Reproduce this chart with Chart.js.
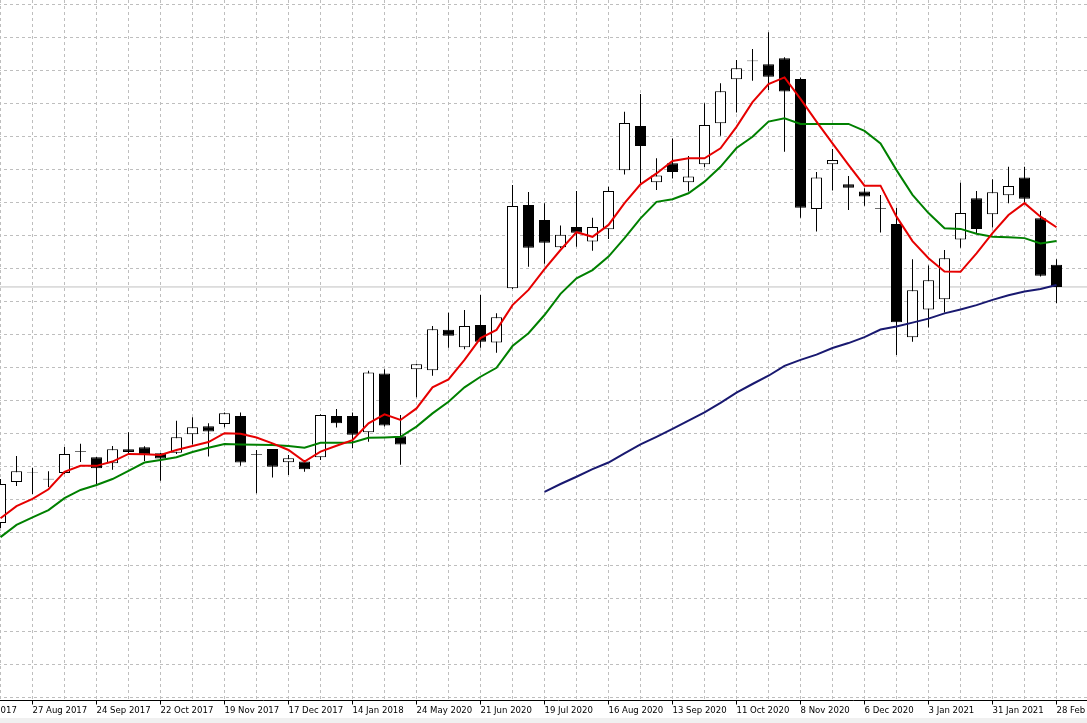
<!DOCTYPE html>
<html>
<head>
<meta charset="utf-8">
<script src="https://cdn.jsdelivr.net/npm/chart.js@4.4.0/dist/chart.umd.min.js"></script>
<style>
    html, body { margin: 0; padding: 0; width: 1087px; height: 723px; overflow: hidden; background: #fff; }
    #wrap { position: absolute; left: -32px; top: 0; width: 1180px; height: 723px; }
    #strip { position: absolute; left: 0; top: 718px; width: 1087px; height: 5px; background: #f0f0f0; }
</style>
</head>
<body>
<div id="wrap"><canvas id="chart" width="1180" height="723"></canvas></div>
<div id="strip"></div>
<script>
// 周线刻度标签（每 4 根 K 线一个）
const tickLabels = ['30 Jul 2017', '27 Aug 2017', '24 Sep 2017', '22 Oct 2017', '19 Nov 2017', '17 Dec 2017',
    '14 Jan 2018', '24 May 2020', '21 Jun 2020', '19 Jul 2020', '16 Aug 2020', '13 Sep 2020',
    '11 Oct 2020', '8 Nov 2020', '6 Dec 2020', '3 Jan 2021', '31 Jan 2021', '28 Feb 2021'];

// K 线数据：开 / 高 / 低 / 收
const opens = [153.0, 165.4, 168.1, 166.2, 168.1, 174.5, 172.9, 171.1, 175.3, 175.9, 174.1, 174.3, 179.9, 182.3, 183.0, 185.4,
    173.8, 175.4, 171.4, 171.6, 172.9, 185.4, 185.4, 180.5, 198.3, 179.3, 199.6, 199.3, 211.5, 206.2, 213.0, 207.7,
    224.1, 249.3, 244.8, 236.5, 242.7, 238.3, 242.0, 259.9, 273.3, 256.2, 262.0, 256.2, 261.7, 274.1, 287.4, 292.9,
    292.0, 293.8, 287.5, 248.1, 261.7, 255.6, 253.4, 248.4, 243.6, 209.3, 217.7, 220.8, 238.9, 251.4, 246.5, 252.3,
    257.7, 245.3, 231.2];
const highs = [166.3, 173.3, 169.7, 168.7, 176.0, 177.0, 173.0, 176.3, 180.5, 176.2, 174.2, 184.0, 185.0, 183.2, 186.5, 186.5,
    175.1, 175.4, 173.6, 172.1, 185.9, 187.5, 186.5, 199.1, 199.6, 185.7, 201.2, 212.7, 216.7, 217.5, 222.1, 216.5,
    255.4, 253.3, 249.9, 243.1, 253.6, 245.5, 254.9, 277.6, 283.0, 263.5, 269.5, 264.2, 280.2, 286.2, 293.3, 296.6,
    301.7, 294.1, 288.0, 259.3, 266.3, 258.1, 254.4, 252.4, 248.5, 232.9, 231.0, 235.7, 256.1, 253.6, 257.1, 260.9,
    260.9, 247.5, 232.9];
const lows = [151.5, 164.2, 161.8, 163.9, 167.8, 171.5, 164.8, 169.1, 174.1, 171.8, 165.8, 173.9, 176.8, 173.1, 182.0, 170.3,
    162.0, 166.8, 167.5, 168.5, 172.1, 181.9, 175.6, 177.6, 182.2, 170.6, 191.1, 197.6, 206.1, 205.6, 206.1, 204.6,
    223.9, 230.6, 231.5, 236.3, 236.7, 235.5, 239.0, 258.6, 255.9, 253.9, 257.4, 253.4, 260.8, 270.3, 277.4, 287.0,
    284.2, 265.5, 245.5, 241.3, 253.7, 247.8, 249.1, 241.0, 203.9, 207.9, 212.2, 216.8, 236.4, 240.8, 242.5, 249.9,
    250.0, 227.7, 219.6];
const closes = [164.8, 168.7, 168.3, 166.4, 173.9, 174.7, 169.6, 175.3, 174.5, 173.8, 172.5, 179.0, 182.0, 180.7, 186.2, 171.3,
    173.6, 170.0, 172.6, 169.3, 185.7, 183.2, 179.7, 198.6, 182.5, 176.8, 201.1, 211.7, 209.7, 212.7, 207.9, 215.3,
    249.0, 236.4, 237.9, 240.3, 240.9, 242.7, 253.6, 274.2, 267.2, 258.3, 259.3, 258.0, 273.6, 283.8, 290.8, 293.1,
    288.2, 283.7, 248.5, 257.7, 263.0, 254.6, 251.9, 248.2, 213.8, 223.5, 226.5, 233.2, 246.9, 242.1, 253.2, 255.1,
    251.2, 227.9, 224.5];

// 三条均线（红 / 绿 / 深蓝）
const fastMA = [154.4, 158.1, 160.3, 163.2, 168.5, 170.3, 170.3, 171.6, 173.9, 173.8, 173.6, 175.1, 176.3, 177.5, 180.2, 180.0,
    178.9, 177.1, 175.1, 171.6, 174.6, 176.4, 178.1, 183.2, 185.9, 184.2, 187.7, 194.1, 196.5, 202.4, 209.0, 211.5,
    219.0, 223.6, 229.9, 235.7, 241.1, 239.7, 243.3, 249.9, 255.6, 258.9, 262.7, 263.5, 263.5, 266.5, 273.0, 280.5,
    286.0, 288.0, 281.5, 274.6, 268.0, 261.5, 255.2, 255.2, 245.8, 238.4, 233.2, 229.2, 229.1, 234.7, 240.8, 246.3,
    249.9, 245.8, 242.6];
const midMA = [148.7, 152.4, 154.7, 156.9, 160.5, 163.0, 164.5, 166.3, 168.8, 171.3, 172.1, 172.9, 174.5, 175.8, 176.9, 176.8,
    176.7, 176.6, 176.3, 175.8, 177.3, 177.3, 177.4, 178.8, 178.9, 179.1, 182.2, 186.2, 189.7, 194.1, 197.3, 200.0,
    206.6, 210.5, 216.0, 222.4, 227.1, 229.6, 233.7, 239.3, 245.3, 250.3, 251.1, 252.9, 256.4, 260.9, 266.6, 270.0,
    274.6, 275.6, 273.9, 273.9, 273.9, 273.9, 271.8, 268.0, 259.9, 252.4, 246.9, 242.3, 242.1, 240.6, 239.7, 239.6,
    239.3, 237.7, 238.4];
const slowMAStart = 34;
const slowMA = [162.4, 164.8, 167.0, 169.3, 171.3, 174.1, 176.8, 179.1, 181.5, 184.0, 186.5, 189.4, 192.5, 195.1, 197.6, 200.6,
    202.4, 204.0, 206.0, 207.5, 209.3, 211.6, 212.5, 213.7, 214.9, 216.5, 217.7, 219.0, 220.6, 222.0, 223.1, 223.9, 225.1];

// 坐标范围：每根 K 线 16px，画布向左偏移两根
const xMin = -2 - 1 / 32;
const xMax = xMin + 1180 / 16;
const gridColor = 'rgb(190,190,190)';
const fontFamily = "'DejaVu Sans Condensed', 'DejaVu Sans', sans-serif";

function labelFor(v) {
    if ((v + 2) % 4 !== 0) return '';
    return tickLabels[(v + 2) / 4] || '';
}

const lastClose = closes[closes.length - 1];

new Chart(document.getElementById('chart'), {
    type: 'bar',
    data: {
        datasets: [
            {
                type: 'line',
                data: [{ x: xMin, y: lastClose }, { x: xMax, y: lastClose }],
                borderColor: 'rgb(192,192,192)',
                borderWidth: 1,
                pointRadius: 0,
                order: 5
            },
            {
                data: lows.map((l, i) => ({ x: i, y: [l, highs[i]] })),
                backgroundColor: '#000',
                barThickness: 1,
                grouped: false,
                inflateAmount: 0,
                order: 4
            },
            {
                data: opens.map((o, i) => ({ x: i, y: [o, closes[i]] })),
                backgroundColor: opens.map((o, i) => closes[i] >= o ? '#fff' : '#000'),
                borderColor: '#000',
                borderWidth: 1,
                borderSkipped: false,
                barThickness: 11,
                grouped: false,
                inflateAmount: 0,
                order: 3
            },
            {
                type: 'line',
                data: slowMA.map((v, i) => ({ x: slowMAStart + i, y: v })),
                borderColor: '#191970',
                borderWidth: 2,
                pointRadius: 0,
                order: 2
            },
            {
                type: 'line',
                data: midMA.map((v, i) => ({ x: i, y: v })),
                borderColor: '#008000',
                borderWidth: 2,
                pointRadius: 0,
                order: 1
            },
            {
                type: 'line',
                data: fastMA.map((v, i) => ({ x: i, y: v })),
                borderColor: 'rgb(230,0,0)',
                borderWidth: 2,
                pointRadius: 0,
                order: 0
            }
        ]
    },
    options: {
        responsive: false,
        animation: false,
        events: [],
        layout: { padding: 0, autoPadding: false },
        plugins: { legend: { display: false }, tooltip: { enabled: false } },
        scales: {
            x: {
                type: 'linear',
                position: 'bottom',
                min: xMin,
                max: xMax,
                offset: false,
                afterBuildTicks: scale => {
                    const t = [];
                    for (let v = -2; v <= xMax; v += 2) t.push({ value: v });
                    scale.ticks = t;
                },
                afterFit: scale => { scale.height = 22.5; },
                ticks: {
                    autoSkip: false,
                    maxRotation: 0,
                    minRotation: 0,
                    align: 'start',
                    padding: 0,
                    color: '#000',
                    font: { family: fontFamily, size: 9.5 },
                    callback: v => labelFor(v)
                },
                grid: {
                    offset: false,
                    color: gridColor,
                    lineWidth: 1,
                    tickLength: 4,
                    tickBorderDash: [],
                    tickColor: ctx => (ctx.tick && labelFor(ctx.tick.value)) ? '#000' : 'rgba(0,0,0,0)'
                },
                border: { display: true, color: '#000', width: 1, dash: [3, 3] }
            },
            y: {
                type: 'linear',
                min: 99.2,
                max: 311.45,
                afterBuildTicks: scale => {
                    const t = [];
                    for (let v = 100; v <= 310; v += 10) t.push({ value: v });
                    scale.ticks = t;
                },
                afterFit: scale => { scale.width = 0; },
                ticks: { display: false },
                grid: { color: gridColor, lineWidth: 1, drawTicks: false },
                border: { display: false, dash: [3, 3] }
            }
        }
    }
});
</script>
</body>
</html>
